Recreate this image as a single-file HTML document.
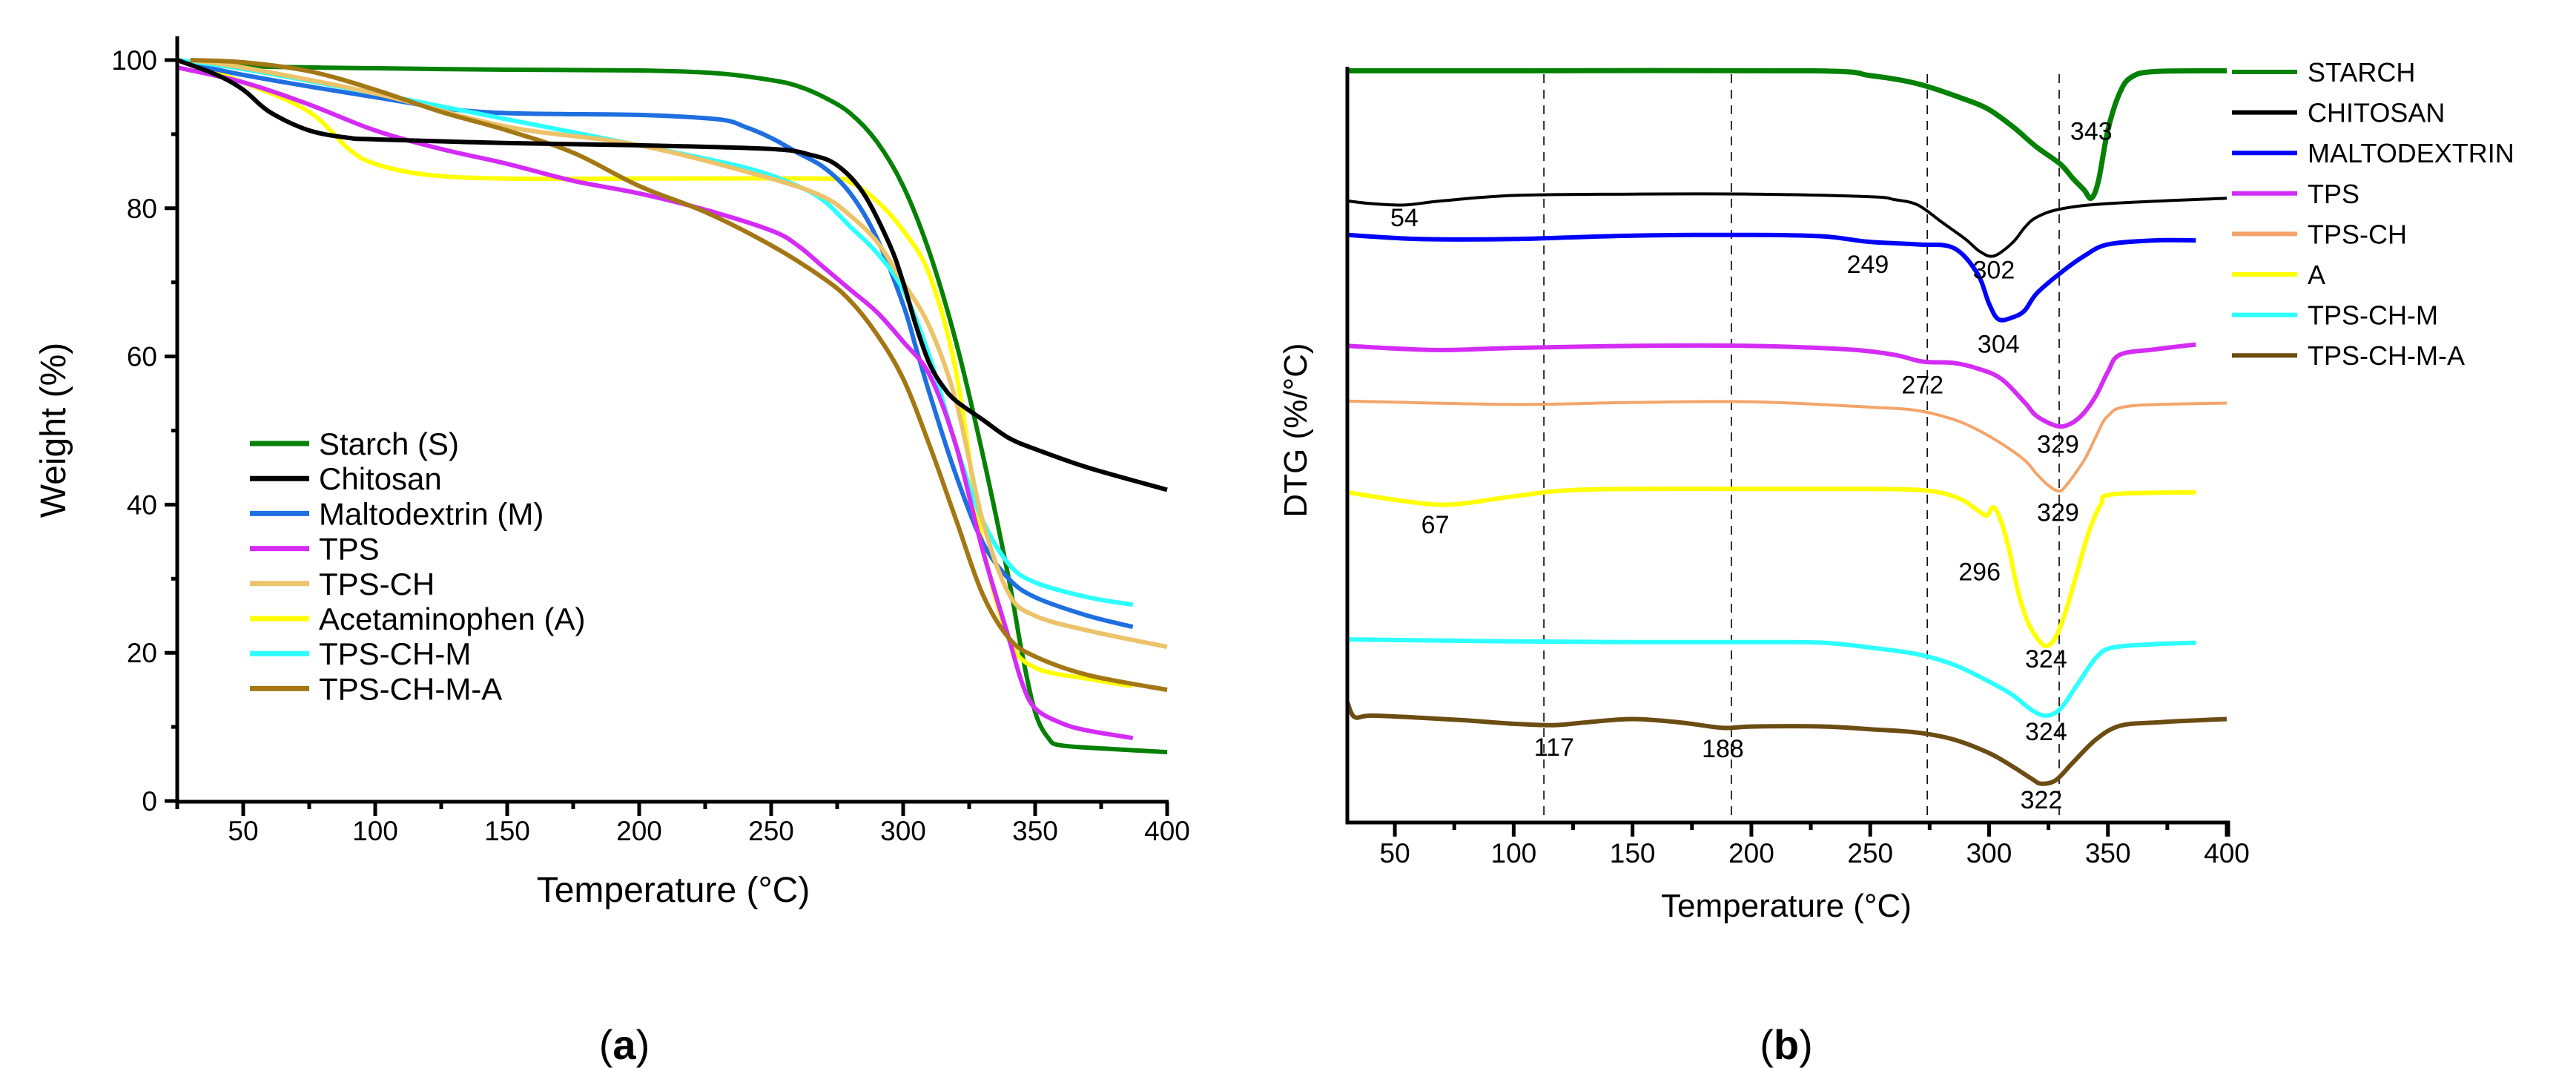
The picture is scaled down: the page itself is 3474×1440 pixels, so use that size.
<!DOCTYPE html>
<html><head><meta charset="utf-8"><style>
html,body{margin:0;padding:0;background:#fff}
svg{display:block}
text{font-family:"Liberation Sans",sans-serif}
</style></head><body>
<svg id="fig" width="3474" height="1440" viewBox="0 0 3474 1440" xmlns="http://www.w3.org/2000/svg">
<g id="pa"></g>
<g id="pb"></g>
<text x="842" y="1428" font-family="Liberation Serif" font-size="56" text-anchor="middle">(<tspan font-weight="bold">a</tspan>)</text>
<text x="2409" y="1428" font-family="Liberation Serif" font-size="56" text-anchor="middle">(<tspan font-weight="bold">b</tspan>)</text>
</svg>
<script>
// ---------- Panel (a) TGA data ----------
const tgaNames = ["Starch (S)","Chitosan","Maltodextrin (M)","TPS","TPS-CH","Acetaminophen (A)","TPS-CH-M","TPS-CH-M-A"];
const tgaColors = ["#058105","#000000","#1f6fe0","#d42cf5","#ecc36a","#ffff00","#2effff","#a37714"];
const starchT = [30,50,100,150,200,230,250,260,270,280,290,300,310,320,330,340,345,350,355,360,380,400];
const starchW = [100,99.2,98.9,98.7,98.6,98.2,97.3,96.5,95,92.8,89,83,74,62,47,30,20,12,8.5,7.5,7,6.6];
const chitT = [25,40,50,60,75,90,100,150,200,250,265,275,285,295,300,305,310,315,320,330,340,350,370,400];
const chitW = [100,98,96,93,90.5,89.5,89.3,88.8,88.5,88,87.2,85.8,82,75,70,64,59,56,54,51.5,49,47.5,45,42];
const maltT = [25,50,100,140,200,230,240,250,260,270,280,290,300,305,310,320,330,340,350,370,387];
const maltW = [100,98,95,93,92.6,92,91,89.5,87.5,85.5,82,76,67,61,55,44,35,30,27.5,25,23.5];
const tpsT = [25,50,75,100,125,150,175,200,225,250,260,270,280,290,300,310,320,330,340,345,350,360,370,387];
const tpsW = [99,97,94,90.5,88,86,83.7,82,79.8,77,75,72,69,66,62,57.5,48,34,22,16,12.5,10.5,9.5,8.5];
const tpschT = [30,50,100,150,200,250,270,280,290,300,310,320,330,340,350,370,400];
const tpschW = [100,99,95.5,91,88.5,84,81.5,79,75.5,70,64,54,38,28,25,23,20.8];
const acetT = [25,50,75,90,100,120,150,200,270,280,290,300,310,320,330,340,350,370,387];
const acetW = [100,97,93,88,86,84.5,84,84,84,83.5,81,77,71,58,35,22,18,16.5,15.5];
const tpschmT = [25,50,100,150,200,240,260,270,280,290,300,310,320,330,340,350,370,387];
const tpschmW = [100,98.8,95.5,92,88.5,85.5,83,81,77.5,74,69,60,48,38,32,29.5,27.5,26.5];
const tpschmaT = [30,50,75,100,125,150,175,200,225,250,270,280,290,300,310,320,330,340,350,370,400];
const tpschmaW = [100,99.7,98.5,96,93,90.5,87.5,83,79.5,75,70.5,67.5,63,57,48,38,28,22,19.5,17,15];
const tgaXTicks = [50,100,150,200,250,300,350,400];
const tgaYTicks = [0,20,40,60,80,100];

// ---------- Panel (b) DTG data (arbitrary offset units, more negative = lower) ----------
const dtgNames = ["STARCH","CHITOSAN","MALTODEXTRIN","TPS","TPS-CH","A","TPS-CH-M","TPS-CH-M-A"];
const dtgColors = ["#058105","#000000","#0000ff","#d42cf5","#f4a46a","#ffff00","#2effff","#6b4c12"];
const dStarchT = [30,100,226,250,270,290,300,310,320,330,335,340,343,346,350,355,360,370,400];
const dStarchV = [-10.3,-10.3,-10.3,-11.0,-12.2,-14.5,-16.0,-18.5,-21.5,-24.0,-26.0,-27.8,-29.0,-26.5,-19.0,-13.5,-11.2,-10.4,-10.3];
const dChitT = [30,40,54,70,100,150,200,250,260,270,280,290,296,302,310,315,320,330,350,400];
const dChitV = [-29.4,-29.8,-30.0,-29.4,-28.6,-28.4,-28.4,-28.8,-29.2,-30.0,-32.5,-35.0,-36.8,-37.5,-35.5,-33.3,-31.8,-30.6,-29.8,-29.0];
const dMaltT = [30,60,100,150,200,230,249,270,285,295,300,304,310,315,320,330,340,350,370,387];
const dMaltV = [-34.4,-35.0,-35.0,-34.5,-34.4,-34.6,-35.4,-35.8,-36.3,-40.0,-44.5,-46.8,-46.5,-45.5,-43.0,-40.0,-37.5,-35.8,-35.2,-35.2];
const dTpsT = [30,67,100,150,200,240,260,272,285,295,305,315,320,329,335,340,345,350,355,370,387];
const dTpsV = [-50.7,-51.3,-51.0,-50.7,-50.7,-51.2,-52.0,-53.0,-53.2,-54.0,-55.5,-59.0,-61.0,-62.5,-62.0,-60.5,-58.0,-54.5,-52.0,-51.2,-50.5];
const dTpschT = [30,100,150,200,250,270,285,295,305,315,320,325,329,332,340,345,350,360,400];
const dTpschV = [-58.8,-59.3,-59.0,-58.9,-59.7,-60.2,-61.5,-63.0,-65.0,-67.5,-69.5,-71.2,-72.0,-71.4,-67.5,-64.0,-61.0,-59.5,-59.1];
const dAT = [30,50,67,80,100,130,200,250,275,288,295,299,301.5,304,308,312,316,320,324,328,332,337,342,347,352,387];
const dAV = [-72.2,-73.3,-74.0,-73.8,-72.8,-71.8,-71.7,-71.7,-72.0,-73.2,-74.8,-75.6,-74.4,-75.5,-80.0,-86.5,-91.0,-93.5,-94.8,-93.5,-90.0,-84.0,-78.0,-74.0,-72.5,-72.2];
const dTpschmT = [30,100,150,200,230,250,270,285,300,310,318,324,330,337,345,352,370,387];
const dTpschmV = [-93.8,-94.1,-94.2,-94.2,-94.3,-95.0,-96.0,-97.5,-100.0,-102.0,-104.2,-105.0,-104.0,-100.5,-96.5,-95.0,-94.5,-94.3];
const dTpschmaT = [30,33,40,60,80,100,117,130,150,170,188,200,230,250,270,285,300,310,318,322,328,335,345,355,370,400];
const dTpschmaV = [-103.0,-105.2,-105.0,-105.3,-105.7,-106.2,-106.4,-106.0,-105.5,-106.0,-106.8,-106.6,-106.6,-107.0,-107.5,-108.5,-110.5,-112.5,-114.3,-115.0,-114.5,-112.0,-108.5,-106.5,-106.0,-105.5];
const peakLabels = ["343","54","249","302","304","272","329","329","67","296","324","324","117","188","322"];
const peakT = [343,54,249,302,304,272,329,329,67,296,324,324,117,188,322];
const peakV = [-19.1,-31.8,-38.7,-39.5,-50.4,-56.4,-65.1,-75.1,-76.9,-83.8,-96.6,-107.3,-109.6,-109.8,-117.3];
const dashT = [112.7,191.6,274,329.5];
const dtgXTicks = [50,100,150,200,250,300,350,400];

const NS="http://www.w3.org/2000/svg";
function mk(tag,attrs,parent){const e=document.createElementNS(NS,tag);for(const k in attrs)e.setAttribute(k,attrs[k]);parent.appendChild(e);return e;}
function smoothD(T,V,xs,ys){
  const P=T.map((t,i)=>[xs(t),ys(V[i])]);let d="M"+P[0][0].toFixed(1)+","+P[0][1].toFixed(1);
  for(let i=0;i<P.length-1;i++){const p0=P[i-1]||P[i],p1=P[i],p2=P[i+1],p3=P[i+2]||P[i+1];
    const c1=[p1[0]+(p2[0]-p0[0])/6,p1[1]+(p2[1]-p0[1])/6],c2=[p2[0]-(p3[0]-p1[0])/6,p2[1]-(p3[1]-p1[1])/6];
    d+="C"+c1[0].toFixed(1)+","+c1[1].toFixed(1)+" "+c2[0].toFixed(1)+","+c2[1].toFixed(1)+" "+p2[0].toFixed(1)+","+p2[1].toFixed(1);}
  return d;}

// ===== Panel A =====
const pa=document.getElementById('pa');
const ax=t=>239+(t-25)*(1574-239)/375;
const ay=w=>1080-w*(1080-81)/100;
const tgaT=[starchT,chitT,maltT,tpsT,tpschT,acetT,tpschmT,tpschmaT];
const tgaW=[starchW,chitW,maltW,tpsW,tpschW,acetW,tpschmW,tpschmaW];
const tgaKeys=["starch","chitosan","maltodextrin","tps","tps-ch","acetaminophen","tps-ch-m","tps-ch-m-a"];
const drawOrder=[0,5,2,6,4,3,7,1];
drawOrder.forEach(i=>{
  const p=mk('path',{d:smoothD(tgaT[i],tgaW[i],ax,ay),fill:'none',stroke:tgaColors[i],'stroke-width':6,'stroke-linejoin':'round'},pa);
  
  
});
const aAxis=mk('path',{d:`M239,49V1081H1576`,fill:'none',stroke:'#000','stroke-width':5},pa);


for(let t=25;t<=400;t+=25){const major=t%50===0;mk('line',{x1:ax(t),x2:ax(t),y1:1081,y2:1081+(major?19:10),stroke:'#000','stroke-width':5},pa);}
tgaXTicks.forEach(t=>{const tx=mk('text',{x:ax(t),y:1133,'font-size':37,'text-anchor':'middle'},pa);tx.textContent=t;
  
  });
for(let w=0;w<=100;w+=10){const major=w%20===0;mk('line',{x1:239,x2:239-(major?17:8),y1:ay(w),y2:ay(w),stroke:'#000','stroke-width':5},pa);}
tgaYTicks.forEach(w=>{const tx=mk('text',{x:212,y:ay(w)+13,'font-size':37,'text-anchor':'end'},pa);tx.textContent=w;
  
  });
let t1=mk('text',{x:908,y:1216,'font-size':48,'text-anchor':'middle'},pa);t1.textContent="Temperature (°C)";


let t2=mk('text',{x:0,y:0,'font-size':48,'text-anchor':'middle',transform:'translate(88,580) rotate(-90)'},pa);t2.textContent="Weight (%)";


const legA=mk('g',{},pa);


tgaNames.forEach((n,i)=>{const y=598+i*47.2;
  const ln=mk('line',{x1:337,x2:417,y1:y,y2:y,stroke:tgaColors[i],'stroke-width':7},legA);
  
  
  const tx=mk('text',{x:430,y:y+15,'font-size':42},legA);tx.textContent=n;
  
  });

// ===== Panel B =====
const pb=document.getElementById('pb');
const bx=t=>1817+(t-30)*(3003-1817)/370;
const by=v=>90+(-v-9.7)*(1109-90)/(120.7-9.7);
dashT.forEach(t=>{const l=mk('line',{x1:bx(t),x2:bx(t),y1:100,y2:1107,stroke:'#000','stroke-width':1.6,'stroke-dasharray':'12,9'},pb);
  
  });
const dT=[dStarchT,dChitT,dMaltT,dTpsT,dTpschT,dAT,dTpschmT,dTpschmaT];
const dV=[dStarchV,dChitV,dMaltV,dTpsV,dTpschV,dAV,dTpschmV,dTpschmaV];
const dW=[7,4,6,6,4,6,6,6];
dT.forEach((T,i)=>{const p=mk('path',{d:smoothD(T,dV[i],bx,by),fill:'none',stroke:dtgColors[i],'stroke-width':dW[i],'stroke-linejoin':'round'},pb);
  
  });
const bAxis=mk('path',{d:`M1817,90V1109H3005V1128`,fill:'none',stroke:'#000','stroke-width':5},pb);


for(let t=50;t<=400;t+=25){const major=t%50===0;mk('line',{x1:bx(t),x2:bx(t),y1:1109,y2:1109+(major?19:10),stroke:'#000','stroke-width':5},pb);}
dtgXTicks.forEach(t=>{const tx=mk('text',{x:bx(t),y:1163,'font-size':37,'text-anchor':'middle'},pb);tx.textContent=t;
  
  });
peakLabels.forEach((s,i)=>{const tx=mk('text',{x:bx(peakT[i]),y:by(peakV[i])+12,'font-size':34,'text-anchor':'middle'},pb);tx.textContent=s;
  
  });
let t3=mk('text',{x:2409,y:1236,'font-size':44,'text-anchor':'middle'},pb);t3.textContent="Temperature (°C)";


let t4=mk('text',{x:0,y:0,'font-size':44,'text-anchor':'middle',transform:'translate(1762,580) rotate(-90)'},pb);t4.textContent="DTG (%/°C)";


const legB=mk('g',{},pb);


dtgNames.forEach((n,i)=>{const y=97+i*54.6;
  const ln=mk('line',{x1:3010,x2:3098,y1:y,y2:y,stroke:dtgColors[i],'stroke-width':6},legB);
  
  
  const tx=mk('text',{x:3112,y:y+13,'font-size':36},legB);tx.textContent=n;
  
  });
</script>
</body></html>
